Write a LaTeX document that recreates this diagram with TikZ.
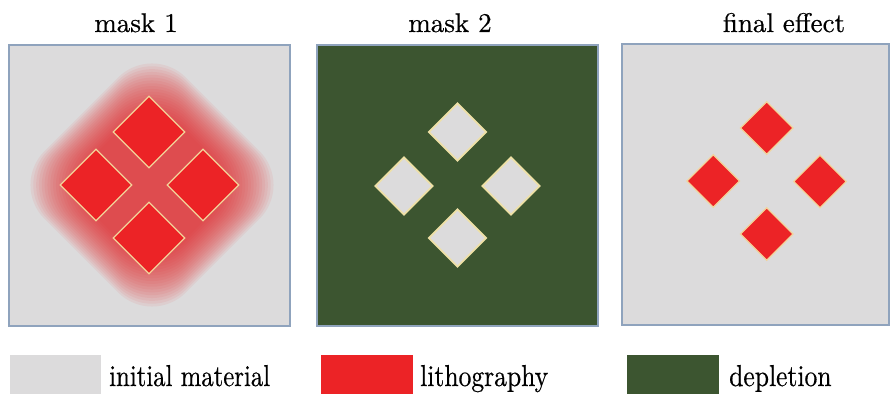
\documentclass[tikz,border=0pt]{standalone}
\usepackage{fontspec}
\newfontfamily\serf{lmroman10-regular.otf}[FakeBold=0.5]
\usetikzlibrary{shapes.geometric}
\definecolor{bggray}{HTML}{DCDBDC}
\definecolor{litho}{HTML}{EC2326}
\definecolor{deplet}{HTML}{3C5530}
\definecolor{frame}{HTML}{8FA3BD}
\definecolor{rim}{HTML}{F2D49A}
\definecolor{rimpale}{HTML}{EEE0A6}
\tikzset{
  panel/.style={draw=frame, line width=1.1pt},
  title/.style={font=\serf\fontsize{27}{30}\selectfont, anchor=base, inner sep=0pt},
  legtext/.style={font=\serf\fontsize{27.5}{30}\selectfont, anchor=base west, inner sep=0pt},
  dia/.style={diamond, aspect=1, inner sep=0pt, minimum width=#1, minimum height=#1},
  reddia/.style={dia=#1, fill=litho, draw=rim, line width=1.2pt},
  graydia/.style={dia=#1, fill=bggray, draw=rimpale, line width=1.7pt}
}
\begin{document}
\begin{tikzpicture}[x=1pt, y=-1pt]
\useasboundingbox (0,0) rectangle (890,395);
\fill[white] (0,0) rectangle (890,395);

% titles
\node[title] (t1) at (136,32) {mask 1};
\node[title] (t2) at (450,32) {mask 2};
\node[title] (t3) at (784,32) {final effect};

% panel 1
\fill[bggray] (9,45) rectangle (290,326);
\begin{scope}[shift={(152,185)}, rotate=45]
  \foreach \s in {100,98,...,62} {
    \fill[litho, opacity=0.066, rounded corners=48pt] (-\s,-\s) rectangle (\s,\s);
  }
\end{scope}
\draw[panel] (9,45) rectangle (290,326);
\node[reddia=72pt] (a1) at (149,132) {};
\node[reddia=72pt] (a2) at (96,185) {};
\node[reddia=72pt] (a3) at (203,185) {};
\node[reddia=72pt] (a4) at (149,238) {};

% panel 2
\fill[deplet] (317,45) rectangle (598,326);
\draw[panel] (317,45) rectangle (598,326);
\node[graydia=58pt] (b1) at (457.5,132) {};
\node[graydia=58pt] (b2) at (404,186) {};
\node[graydia=58pt] (b3) at (511,186) {};
\node[graydia=58pt] (b4) at (457.5,238) {};

% panel 3
\fill[bggray] (622,44) rectangle (889,325);
\draw[panel] (622,44) rectangle (889,325);
\node[reddia=53pt] (c1) at (766.7,128) {};
\node[reddia=53pt] (c2) at (713.3,181) {};
\node[reddia=53pt] (c3) at (820,181.5) {};
\node[reddia=53pt] (c4) at (766.7,234) {};

% legend
\fill[bggray] (10,355) rectangle (101,394);
\node[legtext] (l1) at (109,386) {\scalebox{0.9}[1.1]{initial material}};
\fill[litho] (321,355) rectangle (413,394);
\node[legtext] (l2) at (420,386) {\scalebox{0.93}[1.1]{lithography}};
\fill[deplet] (627,355) rectangle (719,394);
\node[legtext] (l3) at (729,386) {\scalebox{0.93}[1.1]{depletion}};
\end{tikzpicture}
\end{document}
